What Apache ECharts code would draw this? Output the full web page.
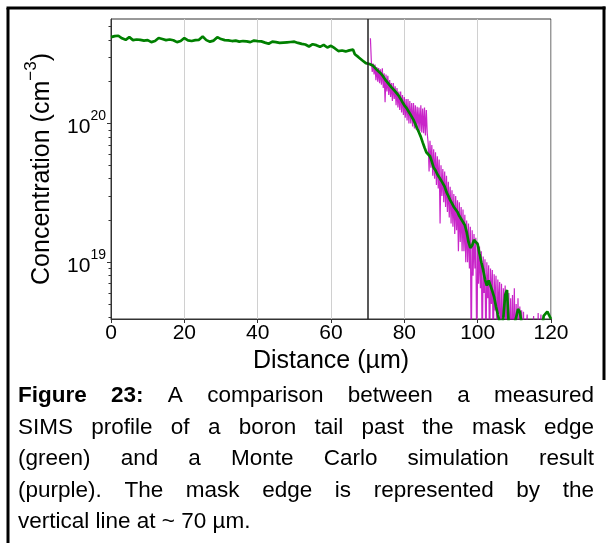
<!DOCTYPE html>
<html>
<head>
<meta charset="utf-8">
<script src="https://cdn.jsdelivr.net/npm/echarts@6/dist/echarts.min.js"></script>
<style>html,body{margin:0;padding:0;background:#fff;}#c{width:612px;height:543px;}</style>
</head>
<body>
<div id="c"></div>
<script>
// ---- data (concentrations in units of 1e20 cm^-3) ----
const UNIT = 1e20;
const xTicks = [0, 20, 40, 60, 80, 100, 120];
const yMajorTicks = [1e19, 1e20];
const yMinorTicks = [4e18,5e18,6e18,7e18,8e18,9e18,2e19,3e19,4e19,5e19,6e19,7e19,8e19,9e19,2e20,3e20,4e20,5e20];
const maskEdge = 70;

// measured SIMS profile (green)
const greenX = [0,1,2,3,4,5,6,7,8,9,10,11,12,13,14,15,16,17,18,19,20,21,22,23,24,25,26,27,28,29,30,31,32,33,34,35,36,37,38,39,40,41,42,43,44,45,46,47,48,49,50,51,52,53,54,55,56,57,58,59,60,61,62,63,64,
64.5,65,65.5,66,66.5,67,67.5,68,68.5,69,69.5,70,70.5,71,71.5,72,72.5,73,73.5,74,74.5,75,75.5,76,76.5,77,77.5,78,78.5,79,79.5,80,80.5,81,81.5,82,82.5,83,83.5,84,84.5,85,85.5,86,86.5,87,87.5,88,88.5,89,89.5,90,90.5,91,91.5,92,92.5,93,93.5,94,94.5,95,95.5,96,96.5,97,97.5,98,98.5,99,99.5,100,100.5,101,101.5,102,102.5,103,103.5,104,104.5,105,105.5,106,106.5,107,107.5,108,108.5,109,109.5,110,110.5,111,111.5,112,112.5,113,113.5,114,114.5,115,115.5,116,116.5,117,117.5,118,118.5,119,119.5,120];
const greenY = [4.18,4.25,4.28,4.10,4.00,4.18,3.98,4.02,4.00,3.95,3.98,3.85,3.92,4.12,4.05,3.98,4.02,3.97,3.85,3.92,4.12,3.96,3.92,3.98,4.00,4.22,3.98,3.88,3.95,4.18,4.05,3.98,3.96,3.92,3.95,3.88,3.92,3.90,3.85,3.95,3.92,3.90,3.82,3.75,3.88,3.85,3.80,3.82,3.84,3.86,3.88,3.80,3.74,3.70,3.58,3.72,3.66,3.56,3.68,3.52,3.62,3.48,3.32,3.35,3.30,
3.32,3.36,3.44,3.40,3.15,3.08,3.00,2.93,2.85,2.78,2.72,2.70,2.68,2.63,2.60,2.52,2.43,2.36,2.30,2.22,2.12,2.03,1.96,1.90,1.82,1.76,1.70,1.65,1.58,1.50,1.42,1.35,1.30,1.24,1.18,1.12,1.06,0.99,0.92,0.86,0.80,0.73,0.67,0.62,0.63,0.58,0.53,0.48,0.46,0.43,0.41,0.39,0.37,0.35,0.32,0.30,0.28,0.265,0.25,0.24,0.23,0.215,0.205,0.195,0.185,0.165,0.14,0.127,0.132,0.145,0.148,0.135,0.115,0.100,0.088,0.075,0.068,0.074,0.072,0.062,0.056,0.048,0.042,0.037,0.034,0.040,0.058,0.063,0.034,0.030,0.032,0.036,0.040,0.046,0.044,0.036,0.032,0.030,0.029,0.028,0.029,0.030,0.029,0.028,0.030,0.031,0.032,0.041,0.040,0.044,0.043,0.039];

// Monte Carlo simulation result (purple)
const purpleX = [70.75,71,71.25,71.5,71.75,72,72.25,72.5,72.75,73,73.25,73.5,73.75,74,74.25,74.5,74.75,75,75.25,75.5,75.75,76,76.25,76.5,76.75,77,77.25,77.5,77.75,78,78.25,78.5,78.75,79,79.25,79.5,79.75,80,80.25,80.5,80.75,81,81.25,81.5,81.75,82,82.25,82.5,82.75,83,83.25,83.5,83.75,84,84.25,84.5,84.75,85,85.25,85.5,85.75,86,86.25,86.5,86.75,87,87.25,87.5,87.75,88,88.25,88.5,88.75,89,89.25,89.5,89.75,90,90.25,90.5,90.75,91,91.25,91.5,91.75,92,92.25,92.5,92.75,93,93.25,93.5,93.75,94,94.25,94.5,94.75,95,95.25,95.5,95.75,96,96.25,96.5,96.75,97,97.25,97.5,97.75,98,98.25,98.5,98.75,99,99.25,99.5,99.75,100,100.25,100.5,100.75,101,101.25,101.5,101.75,102,102.25,102.5,102.75,103,103.25,103.5,103.75,104,104.25,104.5,104.75,105,105.25,105.5,105.75,106,106.25,106.5,106.75,107,107.25,107.5,107.75,108,108.25,108.5,108.75,109,109.25,109.5,109.75,110,110.25,110.5,110.75,111,111.25,111.5,111.75,112,112.25,112.5,112.75,113,113.5,113.75,115,115.25,115.5,116.25,116.5,116.75,117,117.25,117.5];
const purpleY = [4.1,2.8,2.35,2.7,2.25,2.65,2.05,2.55,2.0,2.5,1.95,2.45,1.9,2.5,1.8,2.3,1.42,2.25,1.7,2.2,1.6,2.05,1.55,1.95,1.45,1.95,1.5,1.85,1.35,1.8,1.3,1.7,1.25,1.7,1.2,1.6,1.15,1.55,1.1,1.5,1.05,1.5,1.0,1.45,1.0,1.4,0.95,1.4,0.92,1.35,0.9,1.32,0.9,1.3,0.88,1.35,0.86,1.28,0.85,1.3,0.82,1.25,0.85,0.72,0.45,0.75,0.48,0.7,0.42,0.65,0.4,0.62,0.36,0.58,0.34,0.55,0.19,0.5,0.3,0.47,0.27,0.45,0.25,0.42,0.23,0.38,0.21,0.35,0.19,0.33,0.18,0.31,0.16,0.3,0.17,0.28,0.12,0.27,0.14,0.25,0.12,0.24,0.12,0.22,0.1,0.2,0.1,0.19,0.09,0.18,0.02,0.17,0.08,0.16,0.09,0.15,0.02,0.14,0.07,0.13,0.065,0.12,0.02,0.11,0.06,0.105,0.02,0.1,0.055,0.095,0.02,0.09,0.05,0.088,0.02,0.082,0.045,0.08,0.02,0.075,0.042,0.072,0.02,0.07,0.02,0.065,0.04,0.068,0.02,0.062,0.02,0.06,0.02,0.055,0.02,0.058,0.02,0.065,0.02,0.05,0.02,0.055,0.02,0.048,0.02,0.045,0.02,0.044,0.02,0.02,0.042,0.02,0.02,0.041,0.02,0.02,0.043,0.02,0.02,0.042,0.02];

const captionLines = [
  'Figure 23: A comparison between a measured',
  'SIMS profile of a boron tail past the mask edge',
  '(green) and a Monte Carlo simulation result',
  '(purple). The mask edge is represented by the',
  'vertical line at ~ 70 \u00b5m.'
];
const boldWords = ['Figure', '23:'];

// ---- build ----
const FONT = '"Liberation Sans", Arial, sans-serif';
const green = greenX.map((x, i) => [x, greenY[i] * UNIT]);
const purple = purpleX.map((x, i) => [x, purpleY[i] * UNIT]);
const yMin = 3.9e18, yMax = 5.65e20;

// caption, justified
const CAP_FS = 22.5, CAP_L = 18, CAP_R = 594, CAP_TOP = 396, CAP_LH = 31.5;
const mctx = document.createElement('canvas').getContext('2d');
function measure(t, bold) {
  mctx.font = (bold ? 'bold ' : '') + CAP_FS + 'px ' + FONT;
  return mctx.measureText(t).width;
}
const graphics = [];
captionLines.forEach((line, li) => {
  const words = line.split(' ');
  const isBold = (w, wi) => li === 0 && wi < boldWords.length;
  const widths = words.map((w, wi) => measure(w, isBold(w, wi)));
  const total = widths.reduce((a, b) => a + b, 0);
  const last = li === captionLines.length - 1;
  const gap = last ? measure(' ', false) : (CAP_R - CAP_L - total) / (words.length - 1);
  let x = CAP_L;
  words.forEach((w, wi) => {
    graphics.push({
      type: 'text', x: x, y: CAP_TOP + li * CAP_LH,
      style: { text: w, fontSize: CAP_FS, fontFamily: FONT, fontWeight: isBold(w, wi) ? 'bold' : 'normal', fill: '#000', verticalAlign: 'middle' }
    });
    x += widths[wi] + gap;
  });
});
// outer frame
graphics.push({ type: 'line', shape: { x1: 8, y1: 8, x2: 8, y2: 543 }, style: { stroke: '#000', lineWidth: 3 } });
graphics.push({ type: 'line', shape: { x1: 6.5, y1: 8, x2: 605.5, y2: 8 }, style: { stroke: '#000', lineWidth: 3 } });
graphics.push({ type: 'line', shape: { x1: 604, y1: 6.5, x2: 604, y2: 380 }, style: { stroke: '#000', lineWidth: 3 } });

const chart = echarts.init(document.getElementById('c'), null, { renderer: 'canvas' });
chart.setOption({
  backgroundColor: '#fff',
  animation: false,
  textStyle: { fontFamily: FONT },
  grid: { left: 111, right: 61, top: 19, bottom: 224, show: true, borderColor: '#333', borderWidth: 1, backgroundColor: 'transparent' },
  xAxis: {
    type: 'value', min: 0, max: 120, interval: 20,
    name: 'Distance (\u00b5m)', nameLocation: 'middle', nameGap: 23,
    nameTextStyle: { fontSize: 25, color: '#000', fontFamily: FONT },
    axisLine: { show: true, lineStyle: { color: '#333', width: 1 } },
    axisTick: { show: true, length: 4, lineStyle: { color: '#333' }, customValues: xTicks },
    axisLabel: { fontSize: 21, color: '#000', margin: 4, fontFamily: FONT, customValues: xTicks },
    splitLine: { show: true, lineStyle: { color: '#d0d0d0', width: 1 } }
  },
  yAxis: [{
    type: 'log', logBase: 10, min: yMin, max: yMax, position: 'left',
    name: '{a|Concentration (cm}{s|\u22123}{a|)}', nameLocation: 'middle', nameGap: 56, nameRotate: 90,
    nameTextStyle: { rich: {
      a: { fontSize: 25, color: '#000', fontFamily: FONT, lineHeight: 32, verticalAlign: 'bottom' },
      s: { fontSize: 17, color: '#000', fontFamily: FONT, lineHeight: 17, verticalAlign: 'top' }
    } },
    axisLine: { show: true, lineStyle: { color: '#333', width: 1 } },
    axisTick: { show: true, length: 4, lineStyle: { color: '#333' }, customValues: yMajorTicks },
    axisLabel: {
      customValues: yMajorTicks, margin: 5,
      formatter: v => '{b|10}{s|' + Math.round(Math.log10(v)) + '}',
      rich: {
        b: { fontSize: 21, color: '#000', fontFamily: FONT, lineHeight: 28, verticalAlign: 'bottom' },
        s: { fontSize: 14, color: '#000', fontFamily: FONT, lineHeight: 14, verticalAlign: 'top' }
      }
    },
    splitLine: { show: false }
  }, {
    type: 'log', logBase: 10, min: yMin, max: yMax, position: 'left', offset: 0,
    axisLine: { show: false },
    axisTick: { show: true, length: 2.5, lineStyle: { color: '#333' }, customValues: yMinorTicks },
    axisLabel: { show: false },
    splitLine: { show: false }
  }],
  graphic: graphics,
  series: [{
    type: 'line', data: purple, yAxisIndex: 0, showSymbol: false, symbol: 'none',
    lineStyle: { color: '#bf00bf', width: 1.2, opacity: 0.85 }, clip: true, z: 2
  }, {
    type: 'line', data: green, yAxisIndex: 0, showSymbol: false, symbol: 'none',
    lineStyle: { color: '#008000', width: 2.7 }, clip: true, z: 3,
    markLine: {
      silent: true, symbol: ['none', 'none'], label: { show: false },
      lineStyle: { color: '#222', width: 1.5, type: 'solid' },
      data: [{ xAxis: maskEdge }]
    }
  }]
});
</script>
</body>
</html>
